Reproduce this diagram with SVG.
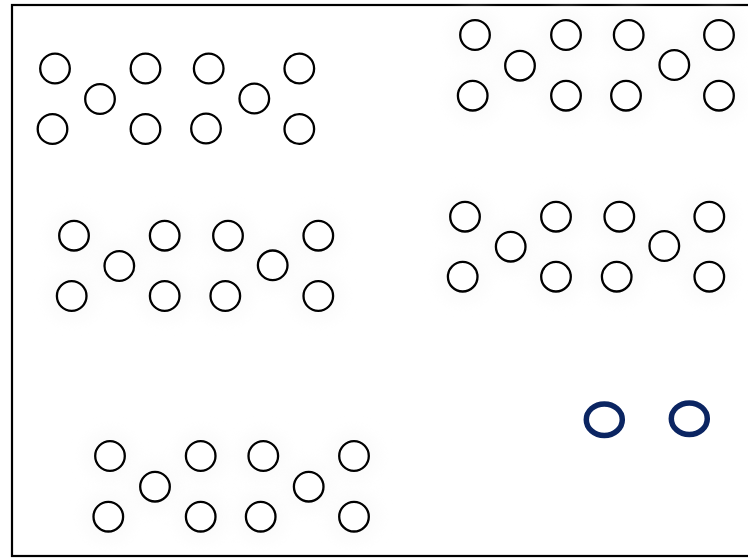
<svg xmlns="http://www.w3.org/2000/svg" width="748" height="558" viewBox="0 0 748 558">
<style>
.n{fill:#fff;stroke:#000;stroke-width:2.3}
.g{fill:#f7f7f7;filter:url(#blur)}
.b{fill:none;stroke:#0b2562;stroke-width:5.5}
</style>
<defs>
<filter id="blur" x="-50%" y="-50%" width="200%" height="200%"><feGaussianBlur stdDeviation="7"/></filter>
</defs>
<rect x="0" y="0" width="748" height="558" fill="#fff"/>
<rect x="12" y="5" width="745" height="551" fill="none" stroke="#000" stroke-width="2.2"/>
<g id="glow" opacity="0.5">
<circle class="g" cx="475" cy="35" r="26"/><circle class="g" cx="473" cy="96" r="26"/><circle class="g" cx="520" cy="66" r="26"/><circle class="g" cx="566" cy="35" r="26"/><circle class="g" cx="566" cy="96" r="26"/><circle class="g" cx="629" cy="35" r="26"/><circle class="g" cx="626" cy="96" r="26"/><circle class="g" cx="674" cy="65" r="26"/><circle class="g" cx="719" cy="35" r="26"/><circle class="g" cx="719" cy="96" r="26"/>
<circle class="g" cx="74" cy="236" r="26"/><circle class="g" cx="72" cy="296" r="26"/><circle class="g" cx="119" cy="266" r="26"/><circle class="g" cx="165" cy="236" r="26"/><circle class="g" cx="165" cy="296" r="26"/><circle class="g" cx="228" cy="236" r="26"/><circle class="g" cx="225" cy="296" r="26"/><circle class="g" cx="273" cy="265" r="26"/><circle class="g" cx="318" cy="236" r="26"/><circle class="g" cx="318" cy="296" r="26"/>
<circle class="g" cx="465" cy="217" r="26"/><circle class="g" cx="463" cy="277" r="26"/><circle class="g" cx="511" cy="247" r="26"/><circle class="g" cx="556" cy="217" r="26"/><circle class="g" cx="556" cy="277" r="26"/><circle class="g" cx="619" cy="217" r="26"/><circle class="g" cx="617" cy="277" r="26"/><circle class="g" cx="664" cy="246" r="26"/><circle class="g" cx="709" cy="217" r="26"/><circle class="g" cx="709" cy="277" r="26"/>
<circle class="g" cx="110" cy="456" r="26"/><circle class="g" cx="108" cy="517" r="26"/><circle class="g" cx="155" cy="487" r="26"/><circle class="g" cx="201" cy="456" r="26"/><circle class="g" cx="201" cy="517" r="26"/><circle class="g" cx="263" cy="456" r="26"/><circle class="g" cx="261" cy="517" r="26"/><circle class="g" cx="309" cy="487" r="26"/><circle class="g" cx="354" cy="456" r="26"/><circle class="g" cx="354" cy="517" r="26"/>
</g>
<g id="connectors"></g>
<g id="n1a"><circle class="n" cx="55" cy="68.5" r="14.8"/></g>
<g id="n1b"><circle class="n" cx="52.5" cy="129" r="14.8"/></g>
<g id="n1c"><circle class="n" cx="100" cy="99" r="14.8"/></g>
<g id="n1d"><circle class="n" cx="145.5" cy="68.5" r="14.8"/></g>
<g id="n1e"><circle class="n" cx="145.5" cy="129" r="14.8"/></g>
<g id="n1f"><circle class="n" cx="208.7" cy="68.5" r="14.8"/></g>
<g id="n1g"><circle class="n" cx="206" cy="128.5" r="14.8"/></g>
<g id="n1h"><circle class="n" cx="254.3" cy="98.5" r="14.8"/></g>
<g id="n1i"><circle class="n" cx="299.3" cy="68.5" r="14.8"/></g>
<g id="n1j"><circle class="n" cx="299.3" cy="129" r="14.8"/></g>
<g id="n2a"><circle class="n" cx="475" cy="35" r="14.8"/></g>
<g id="n2b"><circle class="n" cx="472.7" cy="95.7" r="14.8"/></g>
<g id="n2c"><circle class="n" cx="520" cy="65.7" r="14.8"/></g>
<g id="n2d"><circle class="n" cx="566" cy="35" r="14.8"/></g>
<g id="n2e"><circle class="n" cx="566" cy="95.7" r="14.8"/></g>
<g id="n2f"><circle class="n" cx="628.7" cy="35" r="14.8"/></g>
<g id="n2g"><circle class="n" cx="626" cy="95.7" r="14.8"/></g>
<g id="n2h"><circle class="n" cx="674.3" cy="65" r="14.8"/></g>
<g id="n2i"><circle class="n" cx="719" cy="35" r="14.8"/></g>
<g id="n2j"><circle class="n" cx="719" cy="95.7" r="14.8"/></g>
<g id="n3a"><circle class="n" cx="74" cy="235.7" r="14.8"/></g>
<g id="n3b"><circle class="n" cx="71.7" cy="296" r="14.8"/></g>
<g id="n3c"><circle class="n" cx="119.3" cy="266" r="14.8"/></g>
<g id="n3d"><circle class="n" cx="164.7" cy="235.7" r="14.8"/></g>
<g id="n3e"><circle class="n" cx="164.7" cy="296" r="14.8"/></g>
<g id="n3f"><circle class="n" cx="228" cy="235.7" r="14.8"/></g>
<g id="n3g"><circle class="n" cx="225.3" cy="296" r="14.8"/></g>
<g id="n3h"><circle class="n" cx="272.7" cy="265.3" r="14.8"/></g>
<g id="n3i"><circle class="n" cx="318.3" cy="235.7" r="14.8"/></g>
<g id="n3j"><circle class="n" cx="318.3" cy="296" r="14.8"/></g>
<g id="n4a"><circle class="n" cx="465" cy="216.7" r="14.8"/></g>
<g id="n4b"><circle class="n" cx="462.7" cy="276.7" r="14.8"/></g>
<g id="n4c"><circle class="n" cx="510.7" cy="246.7" r="14.8"/></g>
<g id="n4d"><circle class="n" cx="556" cy="216.7" r="14.8"/></g>
<g id="n4e"><circle class="n" cx="556" cy="276.7" r="14.8"/></g>
<g id="n4f"><circle class="n" cx="619.3" cy="216.7" r="14.8"/></g>
<g id="n4g"><circle class="n" cx="616.7" cy="276.7" r="14.8"/></g>
<g id="n4h"><circle class="n" cx="664.3" cy="246" r="14.8"/></g>
<g id="n4i"><circle class="n" cx="709.3" cy="216.7" r="14.8"/></g>
<g id="n4j"><circle class="n" cx="709.3" cy="276.7" r="14.8"/></g>
<g id="n5a"><circle class="n" cx="110" cy="456" r="14.8"/></g>
<g id="n5b"><circle class="n" cx="108.3" cy="516.7" r="14.8"/></g>
<g id="n5c"><circle class="n" cx="155" cy="486.7" r="14.8"/></g>
<g id="n5d"><circle class="n" cx="200.7" cy="456" r="14.8"/></g>
<g id="n5e"><circle class="n" cx="200.7" cy="516.7" r="14.8"/></g>
<g id="n5f"><circle class="n" cx="263.3" cy="456" r="14.8"/></g>
<g id="n5g"><circle class="n" cx="260.7" cy="516.7" r="14.8"/></g>
<g id="n5h"><circle class="n" cx="308.7" cy="486.7" r="14.8"/></g>
<g id="n5i"><circle class="n" cx="354" cy="456" r="14.8"/></g>
<g id="n5j"><circle class="n" cx="354" cy="516.7" r="14.8"/></g>
<g id="b1"><ellipse class="b" cx="604.3" cy="419.7" rx="18" ry="15.8"/></g>
<g id="b2"><ellipse class="b" cx="689.3" cy="418.7" rx="18" ry="15.8"/></g>
</svg>
